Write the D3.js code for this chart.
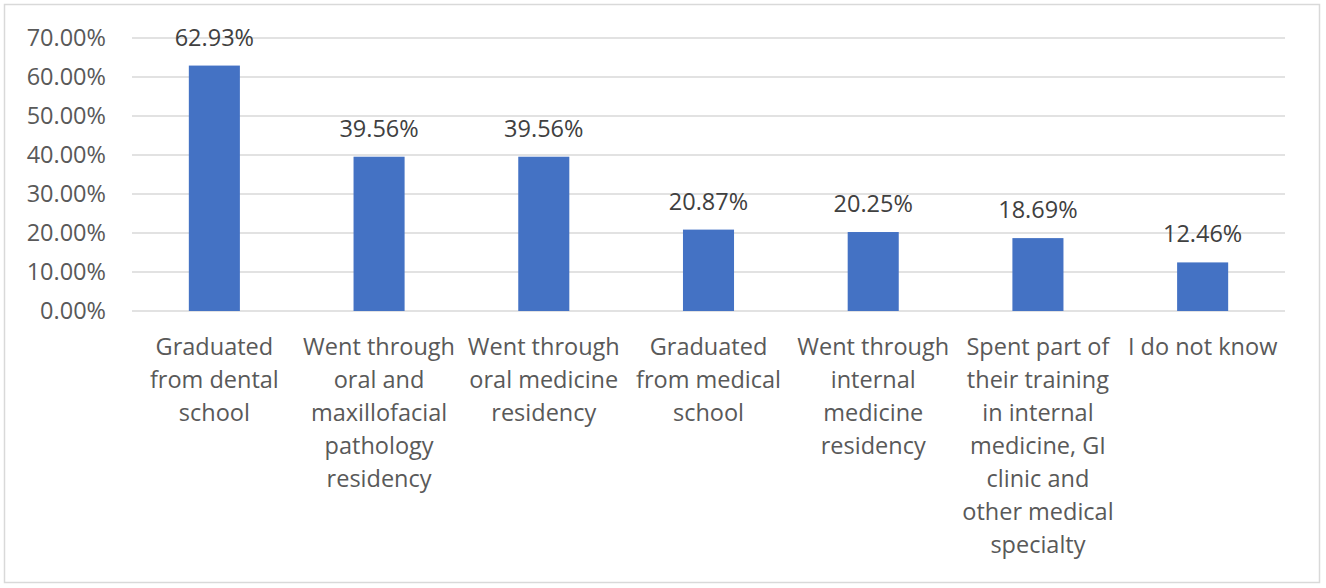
<!DOCTYPE html>
<html>
<head>
<meta charset="UTF-8">
<title>Training background</title>
<script src="https://d3js.org/d3.v7.min.js"></script>
<style>
  body { margin: 0; background: #fff; }
  text { font-family: "Open Sans", sans-serif; }
</style>
</head>
<body>
<script>
// categories, each split into the lines shown under the axis
var categories = [
  ["Graduated", "from dental", "school"],
  ["Went through", "oral and", "maxillofacial", "pathology", "residency"],
  ["Went through", "oral medicine", "residency"],
  ["Graduated", "from medical", "school"],
  ["Went through", "internal", "medicine", "residency"],
  ["Spent part of", "their training", "in internal", "medicine, GI", "clinic and", "other medical", "specialty"],
  ["I do not know"]
];
var values = [62.93, 39.56, 39.56, 20.87, 20.25, 18.69, 12.46];
var yTicks = [0, 10, 20, 30, 40, 50, 60, 70];

var width = 1326, height = 588;
var plotLeft = 132, plotRight = 1285, plotTop = 38, plotBottom = 311;

var svg = d3.select("body").append("svg")
  .attr("width", width)
  .attr("height", height);

// outer chart frame
svg.append("rect")
  .attr("x", 4.5).attr("y", 4.5)
  .attr("width", 1315).attr("height", 578)
  .attr("fill", "#fff")
  .attr("stroke", "#d9d9d9")
  .attr("stroke-width", 1.5);

var x = d3.scaleBand()
  .domain(d3.range(categories.length))
  .range([plotLeft, plotRight])
  .paddingInner(0.69)
  .paddingOuter(0.345);

var y = d3.scaleLinear()
  .domain([0, 70])
  .range([plotBottom, plotTop]);

// grid lines
svg.append("g").selectAll("line")
  .data(yTicks)
  .enter()
  .append("line")
  .attr("x1", plotLeft).attr("x2", plotRight)
  .attr("y1", function (d) { return y(d); })
  .attr("y2", function (d) { return y(d); })
  .attr("stroke", "#d9d9d9")
  .attr("stroke-width", 1.5);

// y axis labels
var yAxis = d3.axisLeft(y)
  .tickValues(yTicks)
  .tickSize(0)
  .tickPadding(0)
  .tickFormat(function (d) { return d.toFixed(2) + "%"; });

var ya = svg.append("g")
  .attr("transform", "translate(106,0)")
  .call(yAxis);
ya.select(".domain").remove();
ya.selectAll("text")
  .attr("fill", "#595959")
  .style("font-size", "23.5px")
  .style("font-family", "'Open Sans', sans-serif");

// bars
svg.append("g").selectAll("rect")
  .data(values)
  .enter()
  .append("rect")
  .attr("x", function (d, i) { return x(i); })
  .attr("y", function (d) { return y(d); })
  .attr("width", x.bandwidth())
  .attr("height", function (d) { return y(0) - y(d); })
  .attr("fill", "#4472c4");

// value labels
svg.append("g").selectAll("text")
  .data(values)
  .enter()
  .append("text")
  .attr("x", function (d, i) { return x(i) + x.bandwidth() / 2; })
  .attr("y", function (d) { return y(d) - 20; })
  .attr("text-anchor", "middle")
  .attr("fill", "#404040")
  .style("font-size", "23.5px")
  .text(function (d) { return d.toFixed(2) + "%"; });

// category labels
var cat = svg.append("g").selectAll("text")
  .data(categories)
  .enter()
  .append("text")
  .attr("text-anchor", "middle")
  .attr("fill", "#595959")
  .style("font-size", "23.5px")
  .attr("transform", function (d, i) {
    return "translate(" + (x(i) + x.bandwidth() / 2) + ",355)";
  });

cat.selectAll("tspan")
  .data(function (d) { return d; })
  .enter()
  .append("tspan")
  .attr("x", 0)
  .attr("y", function (d, i) { return i * 33; })
  .text(function (d) { return d; });
</script>
</body>
</html>
